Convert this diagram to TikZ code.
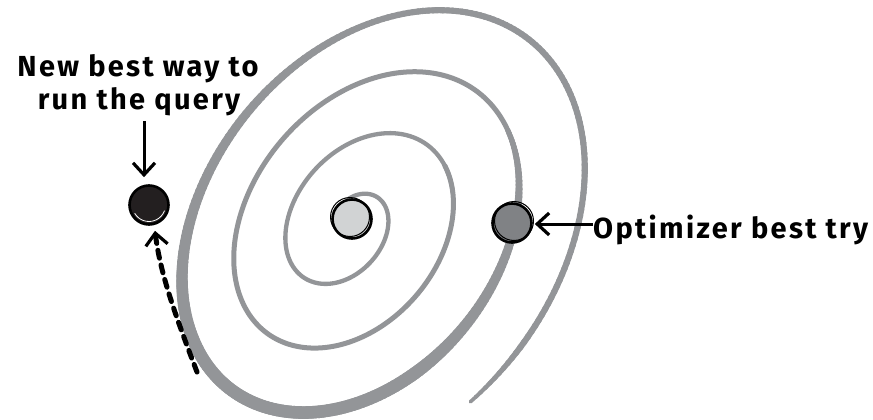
\documentclass[tikz,border=0pt]{standalone}
\usepackage{fontspec}
\newfontfamily\hand{Fira Sans}[LetterSpace=8]
\usetikzlibrary{arrows.meta}
\definecolor{spiralgray}{HTML}{939598}
\definecolor{dotblack}{HTML}{231F20}
\definecolor{dotlight}{HTML}{D1D3D4}
\definecolor{dotmid}{HTML}{808285}
\tikzset{
  declare function={
    sc(\t)=0.18+0.41*\t;
    ps(\t)=-30+360*\t;
    spx(\t)=348+7*\t+sc(\t)*(170.5*cos(ps(\t))*0.6225+123.4*sin(ps(\t))*0.7826);
    spy(\t)=223+1.5*\t+sc(\t)*(-170.5*cos(ps(\t))*0.7826+123.4*sin(ps(\t))*0.6225);
    clampone(\x)=min(1,max(0,\x));
    sw(\t)=4+0.5*min(\t,2.15)+7.5*clampone((\t-2.15)/0.25)-6.5*clampone((\t-2.65)/0.3)-2.5*clampone((\t-3.33)/0.045);
  },
  spiral/.style={draw=spiralgray, line cap=round, line join=round},
  dotnode/.style={circle, minimum size=39pt, inner sep=0pt, draw=black, line width=2.6pt},
  handtext/.style={font=\hand\bfseries\fontsize{29}{33}\selectfont, inner sep=0pt},
  barb/.style={-{Straight Barb[length=12pt, width=22pt, line width=3.2pt]}, line width=3pt, black},
}
\begin{document}
\begin{tikzpicture}[x=1pt, y=-1pt]
\useasboundingbox (0,0) rectangle (873,420);
% spiral: thin inner turns
\draw[spiral, line width=4.3pt] plot[domain=-0.05:1.2, samples=160, variable=\t, smooth] ({spx(\t)},{spy(\t)});
\draw[spiral, line width=5pt] plot[domain=1.15:2.2, samples=140, variable=\t, smooth] ({spx(\t)},{spy(\t)});
% spiral: outer turn with varying width
\foreach \i in {0,...,306} {
  \pgfmathsetmacro{\ta}{2.15+\i*0.004}
  \pgfmathsetmacro{\tb}{\ta+0.005}
  \pgfmathsetmacro{\wd}{sw(\ta)}
  \draw[spiral, line width=\wd pt] ({spx(\ta)},{spy(\ta)}) -- ({spx(\tb)},{spy(\tb)});
}
% dots
\node[dotnode, fill=dotblack] (nbest) at (149,205) {};
\draw[white, line width=0.8pt] (149,205) ++(20:16.5) arc[start angle=20, end angle=150, radius=16.5];
\node[dotnode, fill=dotlight] (ctr) at (352,219) {};
\draw[black, line width=1pt] (350,217) circle[radius=19.5];
\node[dotnode, fill=dotmid] (opt) at (512,223) {};
\draw[black, line width=1pt] (514,221) circle[radius=19.5];
% labels
\node[handtext, anchor=base] (qlabel1) at (138,77) {New best way to};
\node[handtext, anchor=base] (qlabel2) at (139,110) {run the query};
\node[handtext, anchor=base west] (olabel) at (593,238) {Optimizer best try};
% connectors
\coordinate (qa) at (144,121);
\coordinate (qb) at ([yshift=7pt]nbest.north);
\draw[barb] (qa) -- (qa |- qb);
\coordinate (oa) at (593,224);
\draw[barb] (oa) -- ([xshift=2pt]opt.east |- oa);
\coordinate (dstart) at (197,372);
\draw[barb, line width=5pt, line cap=round, dash pattern=on 8pt off 7pt]
  (dstart) .. controls (174,312) and (160,272) .. ([xshift=6pt,yshift=-5pt]nbest.south);
\end{tikzpicture}
\end{document}
